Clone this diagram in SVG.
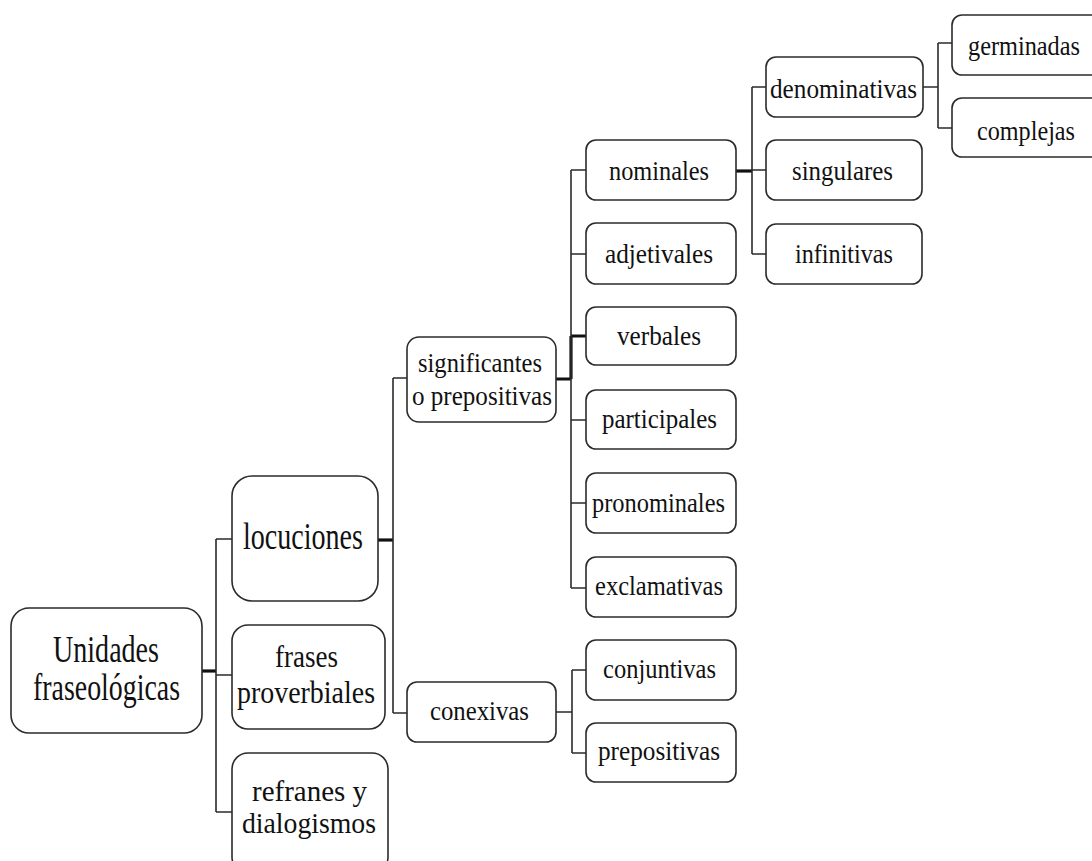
<svg xmlns="http://www.w3.org/2000/svg" width="1092" height="861" viewBox="0 0 1092 861">
  <style>
    .box { fill: #ffffff; stroke: #2b2b2b; stroke-width: 1.6; }
    .lbl { font-family: "Times New Roman", "Liberation Serif", Times, serif; fill: #111111; text-anchor: middle; }
    .big { font-size: 38px; }
    .mid { font-size: 32px; }
    .tight { font-size: 29px; }
    .sm { font-size: 28px; }
    .wire { fill: none; stroke: #2b2b2b; stroke-width: 1.6; }
    .thick { fill: none; stroke: #111111; stroke-width: 3.2; }
  </style>
  <rect width="1092" height="861" fill="#ffffff"/>

  <!-- connectors -->
  <g id="connectors">
    <!-- Unidades fraseológicas -->
    <path class="thick" d="M202 671 H216"/>
    <path class="wire" d="M216 539 V812 M216 539 H232 M216 675 H232 M216 812 H232"/>
    <!-- locuciones -->
    <path class="thick" d="M378 540 H393"/>
    <path class="wire" d="M393 378 V713 M393 378 H407 M393 713 H407"/>
    <!-- significantes o prepositivas -->
    <path class="thick" d="M556 379 H571 M571 336 V379 M571 336 H586"/>
    <path class="wire" d="M571 170 V588 M571 170 H586 M571 254 H586 M571 420 H586 M571 503 H586 M571 588 H586"/>
    <!-- conexivas -->
    <path class="wire" d="M556 712 H572 M572 670 V753 M572 670 H586 M572 753 H586"/>
    <!-- nominales -->
    <path class="thick" d="M736 171 H752"/>
    <path class="wire" d="M752 87 V254 M752 87 H766 M752 170 H766 M752 254 H766"/>
    <!-- denominativas -->
    <path class="wire" d="M923 87 H938 M938 43 V128 M938 43 H952 M938 128 H952"/>
  </g>

  <g id="n-unidades">
    <rect class="box" x="11" y="608" width="191" height="125" rx="18"/>
    <text class="lbl big" x="106" y="662" textLength="106" lengthAdjust="spacingAndGlyphs">Unidades</text>
    <text class="lbl big" x="106.5" y="700" textLength="147" lengthAdjust="spacingAndGlyphs">fraseológicas</text>
  </g>

  <g id="n-locuciones">
    <rect class="box" x="232" y="476" width="146" height="125" rx="20"/>
    <text class="lbl big" x="303" y="549" textLength="120" lengthAdjust="spacingAndGlyphs">locuciones</text>
  </g>

  <g id="n-frases">
    <rect class="box" x="232" y="625" width="153" height="104" rx="16"/>
    <text class="lbl mid" x="306.5" y="667" textLength="63" lengthAdjust="spacingAndGlyphs">frases</text>
    <text class="lbl mid" x="306" y="703" textLength="138" lengthAdjust="spacingAndGlyphs">proverbiales</text>
  </g>

  <g id="n-refranes">
    <rect class="box" x="232" y="753" width="156" height="120" rx="16"/>
    <text class="lbl tight" x="309.5" y="801" textLength="115" lengthAdjust="spacingAndGlyphs">refranes y</text>
    <text class="lbl tight" x="309" y="833" textLength="134" lengthAdjust="spacingAndGlyphs">dialogismos</text>
  </g>

  <g id="n-significantes">
    <rect class="box" x="407" y="337" width="149" height="85" rx="12"/>
    <text class="lbl sm" x="480" y="372" textLength="124" lengthAdjust="spacingAndGlyphs">significantes</text>
    <text class="lbl sm" x="482" y="405" textLength="140" lengthAdjust="spacingAndGlyphs">o prepositivas</text>
  </g>

  <g id="n-conexivas">
    <rect class="box" x="407" y="682" width="149" height="60" rx="10"/>
    <text class="lbl sm" x="479.5" y="720" textLength="99" lengthAdjust="spacingAndGlyphs">conexivas</text>
  </g>

  <g id="n-nominales">
    <rect class="box" x="586" y="140" width="150" height="60" rx="10"/>
    <text class="lbl sm" x="659" y="180" textLength="100" lengthAdjust="spacingAndGlyphs">nominales</text>
  </g>

  <g id="n-adjetivales">
    <rect class="box" x="586" y="223" width="150" height="61" rx="10"/>
    <text class="lbl sm" x="659" y="263" textLength="108" lengthAdjust="spacingAndGlyphs">adjetivales</text>
  </g>

  <g id="n-verbales">
    <rect class="box" x="586" y="307" width="150" height="58" rx="10"/>
    <text class="lbl sm" x="659" y="345" textLength="84" lengthAdjust="spacingAndGlyphs">verbales</text>
  </g>

  <g id="n-participales">
    <rect class="box" x="586" y="390" width="150" height="59" rx="10"/>
    <text class="lbl sm" x="659.5" y="428" textLength="115" lengthAdjust="spacingAndGlyphs">participales</text>
  </g>

  <g id="n-pronominales">
    <rect class="box" x="586" y="473" width="150" height="60" rx="10"/>
    <text class="lbl sm" x="658.5" y="512" textLength="133" lengthAdjust="spacingAndGlyphs">pronominales</text>
  </g>

  <g id="n-exclamativas">
    <rect class="box" x="586" y="557" width="150" height="60" rx="10"/>
    <text class="lbl sm" x="659" y="595" textLength="128" lengthAdjust="spacingAndGlyphs">exclamativas</text>
  </g>

  <g id="n-conjuntivas">
    <rect class="box" x="586" y="640" width="150" height="60" rx="10"/>
    <text class="lbl sm" x="659.5" y="678" textLength="113" lengthAdjust="spacingAndGlyphs">conjuntivas</text>
  </g>

  <g id="n-prepositivas">
    <rect class="box" x="586" y="723" width="150" height="59" rx="10"/>
    <text class="lbl sm" x="659" y="760" textLength="122" lengthAdjust="spacingAndGlyphs">prepositivas</text>
  </g>

  <g id="n-denominativas">
    <rect class="box" x="766" y="57" width="157" height="60" rx="10"/>
    <text class="lbl sm" x="843.5" y="98" textLength="147" lengthAdjust="spacingAndGlyphs">denominativas</text>
  </g>

  <g id="n-singulares">
    <rect class="box" x="766" y="140" width="156" height="60" rx="10"/>
    <text class="lbl sm" x="842.5" y="180" textLength="101" lengthAdjust="spacingAndGlyphs">singulares</text>
  </g>

  <g id="n-infinitivas">
    <rect class="box" x="766" y="224" width="156" height="60" rx="10"/>
    <text class="lbl sm" x="844" y="263" textLength="98" lengthAdjust="spacingAndGlyphs">infinitivas</text>
  </g>

  <g id="n-germinadas">
    <rect class="box" x="952" y="15" width="150" height="60" rx="10"/>
    <text class="lbl sm" x="1024" y="55" textLength="112" lengthAdjust="spacingAndGlyphs">germinadas</text>
  </g>

  <g id="n-complejas">
    <rect class="box" x="952" y="98" width="150" height="59" rx="10"/>
    <text class="lbl sm" x="1026" y="140" textLength="98" lengthAdjust="spacingAndGlyphs">complejas</text>
  </g>
</svg>
